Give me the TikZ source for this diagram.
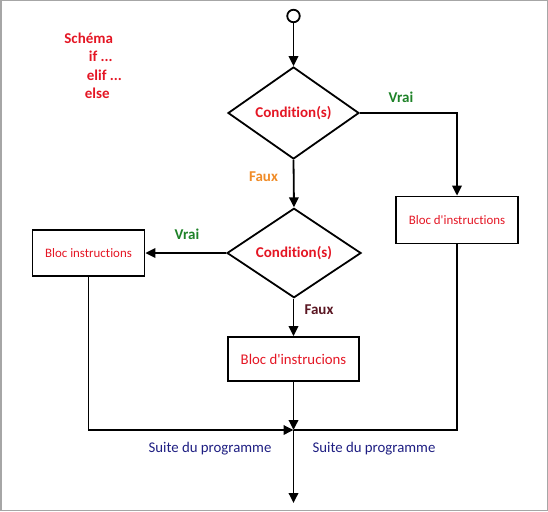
\documentclass[tikz,border=0pt]{standalone}
\usepackage{fontspec}
\defaultfontfeatures[\rmfamily]{}
\setmainfont{Carlito}[Ligatures=NoCommon]
\usetikzlibrary{shapes.geometric,arrows.meta,positioning}
\definecolor{rouge}{RGB}{228,22,36}
\definecolor{vert}{RGB}{30,130,40}
\definecolor{orange}{RGB}{240,140,40}
\definecolor{brun}{RGB}{90,22,34}
\definecolor{bleu}{RGB}{30,30,130}
\begin{document}
\begin{tikzpicture}[x=1pt, y=-1pt, line width=1.8pt, >={Triangle[length=10pt,width=9.5pt]},
    dec/.style = {draw, diamond, inner sep=0pt, text=rouge, font=\fontsize{15}{18}\selectfont\bfseries},
    bloc/.style = {draw, rectangle, inner sep=0pt, text=rouge},
    lab/.style = {font=\fontsize{15}{18}\selectfont\bfseries},
    suite/.style = {text=bleu, font=\fontsize{14.8}{18}\selectfont}]
    \useasboundingbox (0,0) rectangle (548,511);
    \draw[gray!70, line width=1.5pt] (0.75,0.75) rectangle (547.25,510.25);

    \node[lab, text=rouge, anchor=base west, inner sep=0pt] (s1) at (63.5,44) {Schéma};
    \node[lab, text=rouge, anchor=base west, inner sep=0pt] (s2) at (88,62) {if ...};
    \node[lab, text=rouge, anchor=base west, inner sep=0pt] (s3) at (86,80) {elif ...};
    \node[lab, text=rouge, anchor=base west, inner sep=0pt] (s4) at (84,98) {else};

    \node[draw, circle, minimum size=12.5pt, inner sep=0pt] (0) at (293.5,16) {};
    \node[dec, minimum width=131pt, minimum height=92pt] (d1) at (293.5,113) {Condition(s)};
    \node[dec, minimum width=134pt, minimum height=74pt] (d2) at (294,253) {Condition(s)};
    \node[bloc, minimum width=122pt, minimum height=47pt, font=\fontsize{12.9}{15}\selectfont] (b1) at (457,220) {Bloc d\char"0027 instructions};
    \node[bloc, minimum width=112pt, minimum height=46pt, font=\fontsize{12.9}{15}\selectfont] (b2) at (88.5,253) {Bloc instructions};
    \node[bloc, minimum width=131pt, minimum height=44pt, font=\fontsize{14.8}{17}\selectfont] (b3) at (293.5,359) {Bloc d\char"0027 instrucions};
    \coordinate (j) at (293.5,430);
    \coordinate (fin) at (293.5,503);

    \node[lab, text=vert] (v1) at (401,97) {Vrai};
    \node[lab, text=orange] (f1) at (263.5,177) {Faux};
    \node[lab, text=vert] (v2) at (187,234) {Vrai};
    \node[lab, text=brun] (f2) at (319,310) {Faux};
    \node[suite] (p1) at (210,449) {Suite du programme};
    \node[suite] (p2) at (374,449) {Suite du programme};

    \draw[->] (0) -- (d1);
    \draw[->] (d1.east) -| (b1.north);
    \draw[->] (d1.south) -- (d2.north);
    \draw[->] (d2.west) -- (b2.east);
    \draw[->] (d2.south -| b3.north) -- (b3.north);
    \draw[->] (b3.south) -- (j);
    \draw[->] (b2.south) |- (j);
    \draw (b1.south) |- (j);
    \draw[->] (j) -- (fin);
\end{tikzpicture}
\end{document}
